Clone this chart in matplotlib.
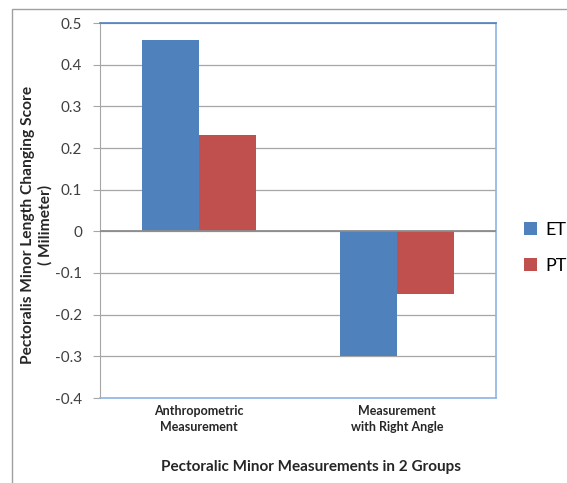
import numpy as np
import matplotlib
matplotlib.use('Agg')
import matplotlib.pyplot as plt
from matplotlib.patches import Rectangle

# datos del grafico
categorias = ['Anthropometric\nMeasurement', 'Measurement\nwith Right Angle']
grupos = ['ET', 'PT']
valores_et = [0.46, -0.30]
valores_pt = [0.23, -0.15]
colores = ['#4F81BD', '#C0504D']

plt.rcParams['font.family'] = ['Lato', 'DejaVu Sans']

fig = plt.figure(figsize=(5.67, 4.83), dpi=100)
# marco exterior (estilo Excel)
fig.patches.append(Rectangle((12 / 567, -0.1), 1.2, 1 - 9 / 483 + 0.1, transform=fig.transFigure,
                             fill=False, edgecolor='#A0A0A0', linewidth=1.0))

ax = fig.add_axes([100 / 567, 1 - 398 / 483, 396 / 567, 375 / 483])

x = np.arange(len(categorias))
ancho = 1 / 3.5
ax.bar(x - ancho / 2, valores_et, ancho, color=colores[0], label=grupos[0], zorder=3)
ax.bar(x + ancho / 2, valores_pt, ancho, color=colores[1], label=grupos[1], zorder=3)

ax.set_xlim(-0.5, 1.5)
ax.set_ylim(-0.4, 0.5)
ax.set_yticks(np.arange(-0.4, 0.51, 0.1))
ax.set_yticklabels(['-0.4', '-0.3', '-0.2', '-0.1', '0', '0.1', '0.2', '0.3', '0.4', '0.5'])
ax.yaxis.grid(True, color='#A6A6A6', linewidth=0.9, zorder=0)
ax.axhline(0, color='#8C8C8C', linewidth=1.3, zorder=4)
ax.tick_params(axis='y', direction='out', length=5, color='#A6A6A6', labelsize=11,
               labelcolor='#404040', pad=8)
ax.set_xticks(x)
ax.set_xticklabels(categorias, fontsize=9, fontweight='bold', color='#262626', linespacing=1.4)
ax.tick_params(axis='x', length=0, pad=5)

for lado in ['top', 'right', 'bottom']:
    ax.spines[lado].set_color('#8EB4E3')
    ax.spines[lado].set_linewidth(1.2)
ax.spines['top'].set_color('#4F81BD')
ax.spines['left'].set_color('#A6A6A6')

# titulos de los ejes
fig.text(37 / 567, 1 - 225 / 483, 'Pectoralis Minor Length Changing Score\n( Milimeter)',
         rotation=90, ha='center', va='center', fontsize=11.2, fontweight='bold',
         color='#262626', linespacing=1.3)
fig.text(311 / 567, 1 - 467 / 483, 'Pectoralic Minor Measurements in 2 Groups',
         ha='center', va='center', fontsize=11, fontweight='bold', color='#262626')

leg = ax.legend(loc='center left', bbox_to_anchor=(1.03, 0.40), frameon=False,
                fontsize=13, handlelength=0.7, handleheight=0.7, labelspacing=1.1,
                handletextpad=0.5)

fig.savefig('out.png', dpi=100)
